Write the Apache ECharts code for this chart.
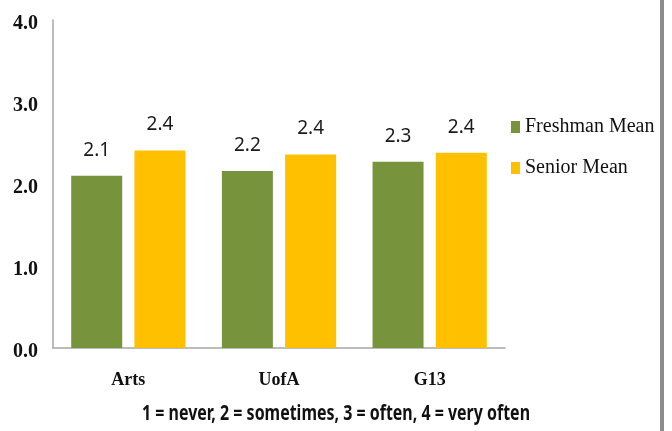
<!DOCTYPE html>
<html>
<head>
<meta charset="utf-8">
<style>
  html, body { margin: 0; padding: 0; background: #ffffff; }
  #chart { width: 672px; height: 431px; }
</style>
<script src="https://cdn.jsdelivr.net/npm/echarts@6/dist/echarts.min.js"></script>
</head>
<body>
<div id="chart"></div>
<script>
// Survey groups and the mean response of each class year
const categories = ['Arts', 'UofA', 'G13'];
const freshmanMean = [2.10, 2.16, 2.27];
const seniorMean = [2.41, 2.36, 2.38];
const seriesNames = ['Freshman Mean', 'Senior Mean'];
const scaleNote = '1 = never, 2 = sometimes, 3 = often, 4 = very often';

const GREEN = '#77933C';
const GOLD = '#FFC000';
const AXIS_GRAY = '#A6A6A6';

const chart = echarts.init(document.getElementById('chart'), null, { renderer: 'canvas' });

const valueLabel = {
  show: true,
  position: 'top',
  distance: 16,
  color: '#1a1a1a',
  fontFamily: '"Liberation Sans Narrow", "Noto Sans", sans-serif',
  fontSize: 19,
  formatter: p => p.value.toFixed(1)
};

const legendText = {
  color: '#111',
  fontFamily: '"Liberation Serif", "Times New Roman", serif',
  fontSize: 20,
  lineHeight: 22
};

function legendEntry(name, top) {
  return {
    data: [name], orient: 'vertical', left: 511, top: top, padding: 0,
    icon: 'rect', itemWidth: 9, itemHeight: 12, itemGap: 0,
    textStyle: legendText
  };
}

chart.setOption({
  animation: false,
  backgroundColor: '#ffffff',
  grid: { left: 53, right: 167, top: 20, bottom: 83, containLabel: false },
  legend: [legendEntry(seriesNames[0], 116), legendEntry(seriesNames[1], 157)],
  xAxis: {
    type: 'category',
    data: categories,
    axisLine: { show: true, lineStyle: { color: AXIS_GRAY, width: 1.5 } },
    axisTick: { show: false },
    axisLabel: {
      margin: 23,
      color: '#111',
      fontFamily: '"Liberation Serif", "Times New Roman", serif',
      fontWeight: 'bold',
      fontSize: 18
    }
  },
  yAxis: {
    type: 'value',
    min: 0,
    max: 4,
    interval: 1,
    splitLine: { show: false },
    axisLine: { show: true, lineStyle: { color: AXIS_GRAY, width: 1.5 } },
    axisTick: { show: false },
    axisLabel: {
      margin: 15,
      color: '#111',
      formatter: v => '{v|' + v.toFixed(1) + '}',
      rich: {
        v: {
          fontFamily: '"Liberation Serif", "Times New Roman", serif',
          fontWeight: 'bold',
          fontSize: 20,
          color: '#111',
          padding: [8, 0, 0, 0]
        }
      }
    }
  },
  series: [
    {
      name: seriesNames[0],
      type: 'bar',
      data: freshmanMean,
      barWidth: 51,
      barGap: '24%',
      itemStyle: { color: GREEN },
      label: valueLabel
    },
    {
      name: seriesNames[1],
      type: 'bar',
      data: seniorMean,
      barWidth: 51,
      barGap: '24%',
      itemStyle: { color: GOLD },
      label: valueLabel
    }
  ],
  graphic: [
    {
      // condensed caption explaining the response scale
      type: 'text',
      x: 336,
      y: 414,
      scaleX: 0.76,
      style: {
        text: scaleNote,
        fill: '#111',
        align: 'center',
        verticalAlign: 'middle',
        font: 'bold 21px "Noto Sans", sans-serif'
      }
    },
    {
      // frame edge on the right side of the slide
      type: 'rect',
      shape: { x: 660, y: 0, width: 4, height: 431 },
      style: { fill: '#8C8C8C' },
      silent: true
    }
  ]
});
</script>
</body>
</html>
